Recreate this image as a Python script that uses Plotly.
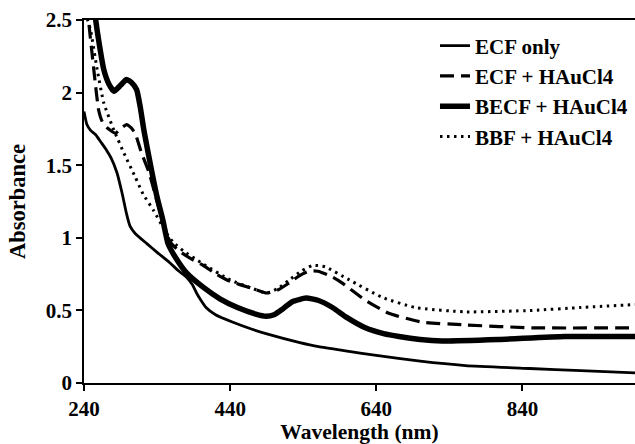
import plotly.graph_objects as go

# ECF only
ecf_wl = [240,244,249,256,263,270,277,285,292,298,303,310,326,340,357,370,380,388,394,400,407,420,443,470,489,534,561,600,640,700,762,850,920,994]
ecf_a = [1.87,1.78,1.74,1.71,1.66,1.61,1.55,1.45,1.31,1.17,1.08,1.03,0.96,0.90,0.83,0.77,0.73,0.68,0.62,0.57,0.52,0.47,0.42,0.37,0.34,0.28,0.25,0.22,0.19,0.15,0.12,0.10,0.085,0.07]

# ECF + HAuCl4
ecfh_wl = [240,247,251,256,260,265,271,283,290,298,304,310,319,329,340,350,358,370,385,403,421,440,471,490,505,521,535,548,560,580,593,625,657,702,762,853,994]
ecfh_a = [2.9,2.46,2.27,2.04,1.88,1.80,1.76,1.72,1.75,1.78,1.76,1.72,1.58,1.45,1.25,1.08,0.97,0.91,0.86,0.81,0.75,0.70,0.65,0.62,0.64,0.69,0.74,0.77,0.77,0.73,0.69,0.57,0.48,0.42,0.40,0.38,0.38]

# BECF + HAuCl4
becf_wl = [240,248,256,261,267,274,281,290,298,305,312,317,322,333,340,348,355,367,380,403,426,450,475,489,500,512,525,544,560,580,600,625,650,671,700,730,807,898,994]
becf_a = [3.3,2.85,2.5,2.33,2.16,2.06,2.01,2.05,2.09,2.07,2.02,1.90,1.74,1.45,1.28,1.12,0.96,0.85,0.76,0.66,0.58,0.52,0.475,0.46,0.47,0.51,0.56,0.585,0.57,0.52,0.45,0.38,0.34,0.32,0.30,0.29,0.30,0.32,0.32]

# BBF + HAuCl4
bbf_wl = [240,245,249,258,267,281,295,310,321,335,353,362,376,403,440,471,490,505,521,537,553,570,603,648,693,762,853,920,994]
bbf_a = [2.65,2.5,2.43,2.16,1.93,1.74,1.58,1.42,1.30,1.19,1.03,0.97,0.91,0.82,0.71,0.65,0.62,0.65,0.71,0.77,0.81,0.80,0.71,0.59,0.52,0.49,0.50,0.52,0.54]

x_ticks = [240, 440, 640, 840]

FONT = "Liberation Serif, Times New Roman, serif"

fig = go.Figure()
fig.add_trace(go.Scatter(x=ecf_wl, y=ecf_a, mode="lines", name="ECF only",
                         line=dict(color="black", width=2.8, shape="spline", smoothing=0.5)))
fig.add_trace(go.Scatter(x=ecfh_wl, y=ecfh_a, mode="lines", name="ECF + HAuCl4",
                         line=dict(color="black", width=3.2, dash="14px,7px", shape="spline", smoothing=0.5)))
fig.add_trace(go.Scatter(x=becf_wl, y=becf_a, mode="lines", name="BECF + HAuCl4",
                         line=dict(color="black", width=5.5, shape="spline", smoothing=0.5)))
fig.add_trace(go.Scatter(x=bbf_wl, y=bbf_a, mode="lines", name="BBF + HAuCl4",
                         line=dict(color="black", width=3, dash="2.5px,4.5px", shape="spline", smoothing=0.5)))

tick_font = dict(family=FONT, size=21, color="black", weight="bold")
xtitle_font = dict(family=FONT, size=21.5, color="black", weight="bold")
ytitle_font = dict(family=FONT, size=22.5, color="black", weight="bold")
legend_font = dict(family=FONT, size=21, color="black", weight="bold")

fig.update_layout(
    width=635, height=444,
    margin=dict(l=84, r=0, t=20, b=61),
    paper_bgcolor="white", plot_bgcolor="white",
    font=tick_font,
    showlegend=True,
    legend=dict(x=0.637, y=0.985, xanchor="left", yanchor="top",
                bgcolor="rgba(0,0,0,0)", font=legend_font, tracegroupgap=0),
)
fig.update_xaxes(range=[240, 994], tickvals=x_ticks, ticks="outside", ticklen=6,
                 tickcolor="black", tickwidth=1.5, showline=True, linecolor="black",
                 linewidth=1.5, mirror=True, showgrid=False, zeroline=False,
                 tickfont=tick_font, automargin=False,
                 title=dict(text="Wavelength (nm)", font=xtitle_font, standoff=9))
fig.update_yaxes(range=[0, 2.5], dtick=0.5, tick0=0, ticks="outside", ticklen=6,
                 tickcolor="black", tickwidth=1.5, showline=True, linecolor="black",
                 linewidth=1.5, showgrid=False, zeroline=False, tickfont=tick_font,
                 automargin=False,
                 title=dict(text="Absorbance", font=ytitle_font, standoff=14))

fig.write_html("out.html")
